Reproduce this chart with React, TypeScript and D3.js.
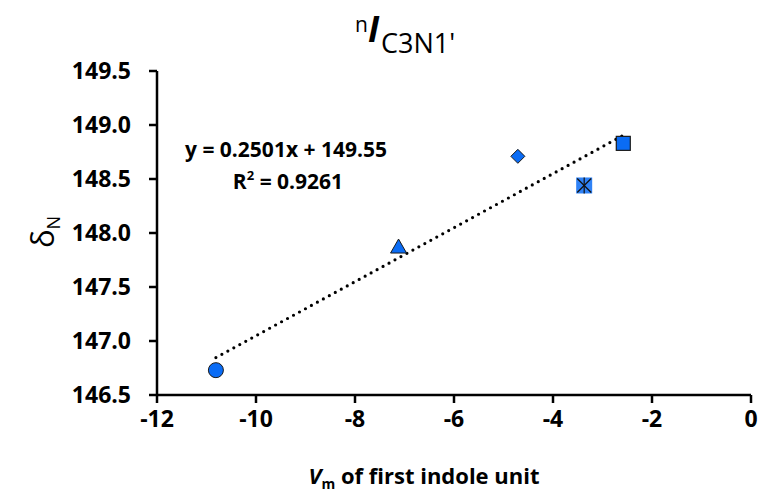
import React from "react";
import * as d3 from "d3";

const vm = [-10.81, -7.12, -4.71, -3.37, -2.58];
const delta = [146.73, 147.87, 148.71, 148.44, 148.83];
const markers = ["circle", "triangle", "diamond", "xsquare", "square"];
const xTicks = [-12, -10, -8, -6, -4, -2, 0];
const yTicks = [146.5, 147.0, 147.5, 148.0, 148.5, 149.0, 149.5];
const trendSlope = 0.2501;
const trendIntercept = 149.55;
const eqText = "y = 0.2501x + 149.55";
const r2Text = "0.9261";

const W = 760;
const H = 497;
const FONT = "'Open Sans', Lato, sans-serif";
const BLUE = "#0A6CF5";

function Marker({ kind, cx, cy }: { kind: string; cx: number; cy: number }) {
  const stroke = "#1a1a1a";
  if (kind === "circle") {
    return <circle cx={cx} cy={cy} r={7.5} fill={BLUE} stroke={stroke} strokeWidth={1} />;
  }
  if (kind === "triangle") {
    const p = d3.path();
    p.moveTo(cx, cy - 8);
    p.lineTo(cx + 8, cy + 6);
    p.lineTo(cx - 8, cy + 6);
    p.closePath();
    return <path d={p.toString()} fill={BLUE} stroke={stroke} strokeWidth={1} />;
  }
  if (kind === "diamond") {
    const p = d3.path();
    p.moveTo(cx, cy - 7);
    p.lineTo(cx + 7, cy);
    p.lineTo(cx, cy + 7);
    p.lineTo(cx - 7, cy);
    p.closePath();
    return <path d={p.toString()} fill={BLUE} stroke={stroke} strokeWidth={1} />;
  }
  if (kind === "square") {
    return <rect x={cx - 7} y={cy - 7} width={14} height={14} fill={BLUE} stroke={stroke} strokeWidth={1.2} />;
  }
  // xsquare
  return (
    <g>
      <rect x={cx - 8} y={cy - 8} width={16} height={16} fill={BLUE} opacity={0.85} />
      <line x1={cx - 7} y1={cy - 7} x2={cx + 7} y2={cy + 7} stroke="#111" strokeWidth={1.2} />
      <line x1={cx + 7} y1={cy - 7} x2={cx - 7} y2={cy + 7} stroke="#111" strokeWidth={1.2} />
      <line x1={cx} y1={cy - 8} x2={cx} y2={cy + 8} stroke="#111" strokeWidth={1.2} />
    </g>
  );
}

export default function App() {
  const x = d3.scaleLinear().domain([-12, 0]).range([157, 751]);
  const y = d3.scaleLinear().domain([146.5, 149.5]).range([395, 71]);

  const xMin = d3.min(vm) as number;
  const xMax = d3.max(vm) as number;
  const trend = d3
    .line<number>()
    .x((d) => x(d))
    .y((d) => y(trendSlope * d + trendIntercept))([xMin, xMax]);

  return (
    <svg width={W} height={H} style={{ position: "absolute", left: 0, top: 0, background: "#fff" }}>
      <rect width={W} height={H} fill="#fff" />
      {/* Title */}
      <text x={355} y={32} fontFamily={FONT} fill="#000">
        <tspan fontSize={21}>n</tspan>
        <tspan fontSize={35} fontWeight={700} fontStyle="italic" dy={10}>I</tspan>
        <tspan fontSize={27} dy={11} dx={2}>C3N1'</tspan>
      </text>

      {/* axes */}
      <line x1={x(-12)} x2={x(0)} y1={y(146.5)} y2={y(146.5)} stroke="#000" strokeWidth={2.5} />
      <line x1={x(-12)} x2={x(-12)} y1={y(146.5)} y2={y(149.5)} stroke="#000" strokeWidth={2.5} />
      {xTicks.map((t) => (
        <g key={"xt" + t}>
          <line x1={x(t)} x2={x(t)} y1={y(146.5)} y2={y(146.5) + 8} stroke="#000" strokeWidth={2.5} />
          <text x={x(t)} y={y(146.5) + 32} textAnchor="middle" fontFamily={FONT} fontWeight={700} fontSize={23}>
            {t === 0 ? "0" : "-" + Math.abs(t)}
          </text>
        </g>
      ))}
      {yTicks.map((t) => (
        <g key={"yt" + t}>
          <line x1={x(-12) - 8} x2={x(-12)} y1={y(t)} y2={y(t)} stroke="#000" strokeWidth={2.5} />
          <text x={131} y={y(t) + 8} textAnchor="end" fontFamily={FONT} fontWeight={700} fontSize={23}>
            {t.toFixed(1)}
          </text>
        </g>
      ))}

      {/* trendline */}
      <path d={trend || ""} fill="none" stroke="#000" strokeWidth={3.2} strokeDasharray="0 6.8" strokeLinecap="round" />

      {/* points */}
      {vm.map((v, i) => (
        <Marker key={i} kind={markers[i]} cx={x(v)} cy={y(delta[i])} />
      ))}

      {/* equation */}
      <text x={286} y={157} textAnchor="middle" fontFamily={FONT} fontWeight={700} fontSize={21}>
        {eqText}
      </text>
      <text x={288} y={189} textAnchor="middle" fontFamily={FONT} fontWeight={700} fontSize={21}>
        R<tspan fontSize={13} dy={-9}>2</tspan>
        <tspan dy={9}> = {r2Text}</tspan>
      </text>

      {/* y label */}
      <text transform="translate(54,232) rotate(-90)" textAnchor="middle" fontFamily={FONT} fill="#000">
        <tspan fontSize={31}>δ</tspan>
        <tspan fontSize={18} dy={6}>N</tspan>
      </text>

      {/* x label */}
      <text x={424} y={484} textAnchor="middle" fontFamily={FONT} fontWeight={700} fontSize={22}>
        <tspan fontStyle="italic">V</tspan>
        <tspan fontSize={14} dy={5}>m</tspan>
        <tspan dy={-5}> of first indole unit</tspan>
      </text>
    </svg>
  );
}
